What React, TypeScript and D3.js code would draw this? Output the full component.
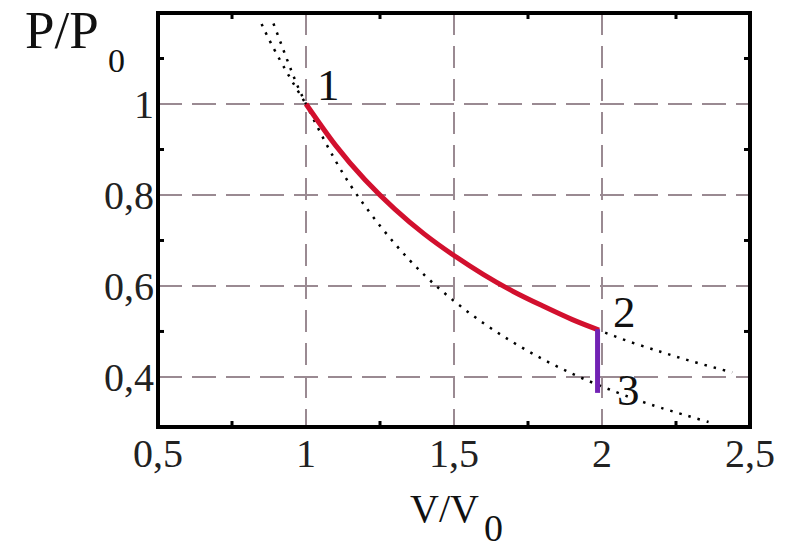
import React, { useEffect, useRef } from 'react';
import * as d3 from 'd3';

// isotherm P ~ 1/V (dotted)
const isoV = [0.85, 0.9, 1, 1.1, 1.2, 1.3, 1.4, 1.5, 1.6, 1.7, 1.8, 1.9, 2, 2.1, 2.2, 2.3, 2.44];
const isoP = [1.176, 1.111, 1, 0.909, 0.833, 0.769, 0.714, 0.667, 0.625, 0.588, 0.556, 0.526, 0.5, 0.476, 0.455, 0.435, 0.41];

// adiabat through point 1 (dotted)
const adiV = [0.89, 0.95, 1, 1.1, 1.2, 1.3, 1.4, 1.5, 1.6, 1.7, 1.8, 1.9, 2, 2.1, 2.2, 2.36];
const adiP = [1.177, 1.074, 1, 0.875, 0.775, 0.693, 0.624, 0.567, 0.518, 0.476, 0.439, 0.407, 0.379, 0.354, 0.332, 0.301];

// process 1 -> 2 (red) and 2 -> 3 (purple)
const p12V = [1, 1.1, 1.2, 1.3, 1.4, 1.5, 1.6, 1.7, 1.8, 1.9, 1.99];
const p12P = [1, 0.909, 0.833, 0.769, 0.714, 0.667, 0.625, 0.588, 0.556, 0.526, 0.503];
const p23V = [1.985, 1.985];
const p23P = [0.505, 0.365];

const xTicks = [0.5, 1, 1.5, 2, 2.5];
const xTickLabels = ['0,5', '1', '1,5', '2', '2,5'];
const xMinor = [0.75, 1.25, 1.75, 2.25];
const yTicks = [0.4, 0.6, 0.8, 1];
const yTickLabels = ['0,4', '0,6', '0,8', '1'];
const yMinor = [0.5, 0.7, 0.9, 1.1];
const xGrid = [1, 1.5, 2];

const states = [
  { name: '1', v: 1, p: 1, dx: 11, dy: -4 },
  { name: '2', v: 2, p: 0.5, dx: 11, dy: -4 },
  { name: '3', v: 2, p: 0.37, dx: 15, dy: 14 },
];

const font = '"Liberation Serif", "DejaVu Serif", serif';

const App = () => {
  const svgRef = useRef<SVGSVGElement>(null);

  useEffect(() => {
    const left = 158, right = 750, top = 13, bottom = 427;
    const svg = d3.select(svgRef.current);
    svg.selectAll('*').remove();

    const x = d3.scaleLinear().domain([0.5, 2.5]).range([left, right]);
    const y = d3.scaleLinear().domain([0.29, 1.2]).range([bottom, top]);

    svg.append('defs').append('clipPath').attr('id', 'plot')
      .append('rect').attr('x', left).attr('y', top)
      .attr('width', right - left).attr('height', bottom - top);

    const gridColor = '#9a8a92';
    // grid
    svg.append('g').selectAll('line').data(yTicks).enter().append('line')
      .attr('x1', left).attr('x2', right)
      .attr('y1', d => y(d)).attr('y2', d => y(d))
      .attr('stroke', gridColor).attr('stroke-width', 2)
      .attr('stroke-dasharray', '24 10');
    svg.append('g').selectAll('line').data(xGrid).enter().append('line')
      .attr('x1', d => x(d)).attr('x2', d => x(d))
      .attr('y1', top).attr('y2', bottom)
      .attr('stroke', gridColor).attr('stroke-width', 2)
      .attr('stroke-dasharray', '22 11');

    const line = (vs: number[], ps: number[]) =>
      d3.line<number>().x(d => x(vs[d])).y(d => y(ps[d])).curve(d3.curveNatural)(d3.range(vs.length));

    const curves = svg.append('g').attr('clip-path', 'url(#plot)');
    curves.append('path').attr('d', line(isoV, isoP))
      .attr('fill', 'none').attr('stroke', '#000').attr('stroke-width', 2.5)
      .attr('stroke-dasharray', '2.5 7');
    curves.append('path').attr('d', line(adiV, adiP))
      .attr('fill', 'none').attr('stroke', '#000').attr('stroke-width', 2.5)
      .attr('stroke-dasharray', '2.5 7');
    curves.append('path').attr('d', line(p12V, p12P))
      .attr('fill', 'none').attr('stroke', '#d2102e').attr('stroke-width', 5);
    curves.append('path')
      .attr('d', d3.line<number>().x(d => x(p23V[d])).y(d => y(p23P[d]))(d3.range(p23V.length)))
      .attr('fill', 'none').attr('stroke', '#7222b4').attr('stroke-width', 5);

    // minor ticks, inward on all four sides
    const ticks = svg.append('g').attr('stroke', '#000').attr('stroke-width', 3);
    xMinor.forEach(v => {
      ticks.append('line').attr('x1', x(v)).attr('x2', x(v)).attr('y1', bottom).attr('y2', bottom - 6);
      ticks.append('line').attr('x1', x(v)).attr('x2', x(v)).attr('y1', top).attr('y2', top + 6);
    });
    yMinor.forEach(p => {
      ticks.append('line').attr('x1', left).attr('x2', left + 6).attr('y1', y(p)).attr('y2', y(p));
      ticks.append('line').attr('x1', right).attr('x2', right - 6).attr('y1', y(p)).attr('y2', y(p));
    });

    // frame
    svg.append('rect').attr('x', left).attr('y', top)
      .attr('width', right - left).attr('height', bottom - top)
      .attr('fill', 'none').attr('stroke', '#000').attr('stroke-width', 4);

    const labels = svg.append('g').style('font-family', font);

    // tick labels
    labels.append('g').selectAll('text').data(xTicks).enter().append('text')
      .attr('x', d => x(d)).attr('y', 467)
      .attr('text-anchor', 'middle').attr('font-size', 40).attr('fill', '#222')
      .text((d, i) => xTickLabels[i]);
    labels.append('g').selectAll('text').data(yTicks).enter().append('text')
      .attr('x', 154).attr('y', d => y(d) + 14)
      .attr('text-anchor', 'end').attr('font-size', 40).attr('fill', '#222')
      .text((d, i) => yTickLabels[i]);

    // state labels
    labels.append('g').selectAll('text').data(states).enter().append('text')
      .attr('x', d => x(d.v) + d.dx).attr('y', d => y(d.p) + d.dy)
      .attr('font-size', 45).attr('fill', '#111')
      .text(d => d.name);

    // axis titles
    const yt = labels.append('text').attr('x', 25).attr('y', 48)
      .attr('font-size', 53).attr('fill', '#111');
    yt.append('tspan').text('P/P');
    yt.append('tspan').attr('x', 108).attr('y', 72).attr('font-size', 34).text('0');

    const xt = labels.append('text').attr('x', 410).attr('y', 522)
      .attr('font-size', 40).attr('fill', '#111');
    xt.append('tspan').text('V/V');
    xt.append('tspan').attr('x', 484).attr('y', 541).attr('font-size', 38).text('0');
  }, []);

  return (
    <svg ref={svgRef} width={788} height={548}
      style={{ position: 'absolute', left: 0, top: 0, background: '#fff' }} />
  );
};

export default App;
